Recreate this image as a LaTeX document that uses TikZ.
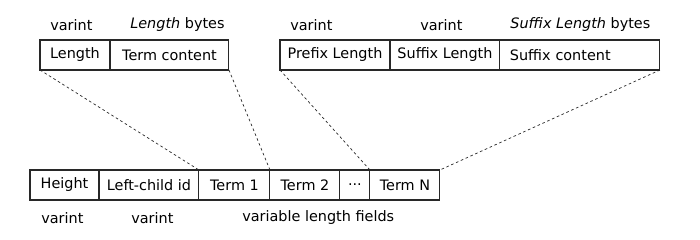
\documentclass[tikz,border=0pt]{standalone}
\usepackage{fontspec}
\setmainfont{DejaVu Sans}
\usetikzlibrary{positioning}
\definecolor{mydark}{RGB}{40,40,40}
\tikzset{
  cell/.style={rectangle, draw=mydark, line width=0.6pt, minimum height=0.6cm,
    inner sep=0pt, outer sep=0pt, font=\fontsize{8.2}{9}\selectfont, anchor=west},
  tag/.style={font=\fontsize{8.2}{9}\selectfont, inner sep=0pt, anchor=west},
  zoomline/.style={line width=0.4pt, color=mydark, dash pattern=on 1.5pt off 1.5pt}
}
\begin{document}
\begin{tikzpicture}[x=0.02cm, y=-0.02cm]
  \useasboundingbox (0,0) rectangle (700,240);

  % Node layout
  \node[cell, minimum width=1.38cm] (height) at (30,185) {Height};
  \node[cell, minimum width=2.0cm, right=0pt of height] (leftchild) {Left-child id};
  \node[cell, minimum width=1.42cm, right=0pt of leftchild] (term1) {Term 1};
  \node[cell, minimum width=1.4cm, right=0pt of term1] (term2) {Term 2};
  \node[cell, minimum width=0.6cm, right=0pt of term2] (dots) {...};
  \node[cell, minimum width=1.4cm, right=0pt of dots] (termn) {Term N};

  \node[tag] (hvar) at (41,218) {varint};
  \node[tag] (lvar) at (131,218) {varint};
  \node[tag] (fields) at (242,218) {variable length fields};

  % Full term
  \node[cell, minimum width=1.4cm] (len) at (40,55) {Length};
  \node[cell, minimum width=2.38cm, right=0pt of len] (content) {Term content};
  \node[tag] (lenvar) at (50,25) {varint};
  \node[tag] (lenbytes) at (130,25) {\textit{Length} bytes};

  % Prefix-compressed term
  \node[cell, minimum width=2.2cm] (prefix) at (280,55) {Prefix Length};
  \node[cell, minimum width=2.2cm, right=0pt of prefix] (suffixlen) {Suffix Length};
  \node[cell, minimum width=3.2cm, inner xsep=0.2cm, text width=2.8cm, align=left,
    right=0pt of suffixlen] (suffix) {Suffix content};
  \node[tag] (prevar) at (290,25) {varint};
  \node[tag] (sufvar) at (420,25) {varint};
  \node[tag] (sufbytes) at (510,25) {\textit{Suffix Length} bytes};

  % Zoom lines
  \draw[zoomline] (len.south west) -- (term1.north west);
  \draw[zoomline] (content.south east) -- (term2.north west);
  \draw[zoomline] (prefix.south west) -- (termn.north west);
  \draw[zoomline] (suffix.south east) -- (termn.north east);

\end{tikzpicture}
\end{document}
